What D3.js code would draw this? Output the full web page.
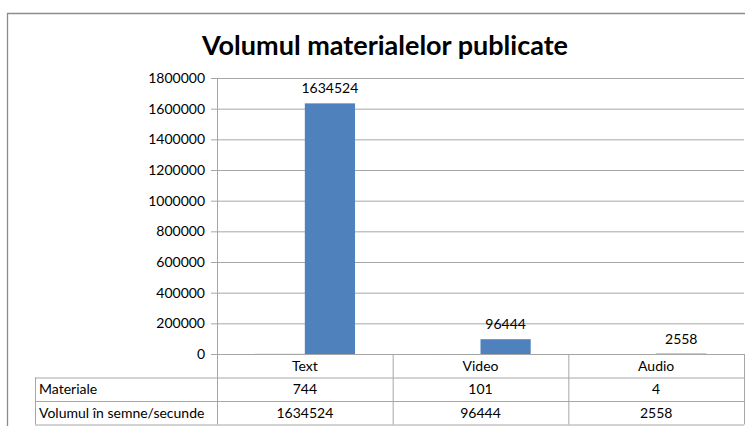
<!DOCTYPE html>
<html>
<head>
<meta charset="utf-8">
<script src="https://cdn.jsdelivr.net/npm/d3@7"></script>
<style>
  body { margin: 0; background: #fff; }
  svg { display: block; }
  text { font-family: Lato, "Open Sans", sans-serif; fill: #000; }
</style>
</head>
<body>
<div id="main"></div>
<script>
const width = 745;
const height = 426;

const categories = ["Text", "Video", "Audio"];
const seriesNames = ["Materiale", "Volumul în semne/secunde"];
const materiale = [744, 101, 4];
const volumul = [1634524, 96444, 2558];
const yTicks = [0, 200000, 400000, 600000, 800000, 1000000, 1200000, 1400000, 1600000, 1800000];

const plotLeft = 217, plotRight = 744, plotTop = 78, plotBottom = 354;
const rowH = 23.5;
const labelLeft = 35;
const gridColor = "#a6a6a6";

const svg = d3.select("#main").append("svg")
  .attr("width", width)
  .attr("height", height);

// outer chart border (left + top visible)
svg.append("path")
  .attr("d", `M7.5,${height + 2}V13.5H${width + 2}`)
  .attr("fill", "none")
  .attr("stroke", "#8c8c8c")
  .attr("stroke-width", 1.3);

svg.append("text")
  .attr("x", 385)
  .attr("y", 55)
  .attr("text-anchor", "middle")
  .style("font-size", "27px")
  .style("font-weight", "bold")
  .text("Volumul materialelor publicate");

const y = d3.scaleLinear()
  .domain([0, 1800000])
  .range([plotBottom, plotTop]);

const x = d3.scaleBand()
  .domain(categories)
  .range([plotLeft, plotRight]);

const x1 = d3.scaleBand()
  .domain(seriesNames)
  .range([0, x.bandwidth()])
  .paddingInner(0)
  .paddingOuter(0.75);

// gridlines + y axis
const yAxis = svg.append("g")
  .attr("transform", `translate(${plotLeft},0)`)
  .call(d3.axisLeft(y).tickValues(yTicks).tickFormat(d3.format("d"))
    .tickSize(-(plotRight - plotLeft)).tickSizeOuter(0).tickPadding(12));
yAxis.select(".domain").remove();
yAxis.selectAll(".tick line").attr("stroke", gridColor).attr("x1", -6);
yAxis.selectAll(".tick text")
  .style("font-size", "14px")
  .style("font-family", "Lato, sans-serif")
  .attr("fill", "#000");

svg.append("line")
  .attr("x1", plotLeft + 0.5).attr("x2", plotLeft + 0.5)
  .attr("y1", plotTop).attr("y2", plotBottom)
  .attr("stroke", gridColor);

// bars
const seriesData = [materiale, volumul];
const groups = svg.append("g").selectAll("g")
  .data(categories)
  .join("g")
  .attr("transform", d => `translate(${x(d)},0)`);

groups.selectAll("rect")
  .data((c, i) => seriesNames.map((s, k) => ({ s, v: seriesData[k][i] })))
  .join("rect")
  .attr("x", d => x1(d.s))
  .attr("width", x1.bandwidth())
  .attr("y", d => y(d.v))
  .attr("height", d => y(0) - y(d.v))
  .attr("fill", "#4f81bd");

// data labels for volumul
groups.append("text")
  .attr("x", x1(seriesNames[1]) + x1.bandwidth() / 2)
  .attr("y", (c, i) => y(volumul[i]) - 10)
  .attr("text-anchor", "middle")
  .style("font-size", "14px")
  .text((c, i) => volumul[i]);

// data table
const table = svg.append("g").attr("stroke", gridColor).attr("fill", "none");
const rowsY = [plotBottom, plotBottom + rowH, plotBottom + 2 * rowH, plotBottom + 3 * rowH];
table.append("line").attr("x1", plotLeft).attr("x2", plotRight).attr("y1", rowsY[0] + 0.5).attr("y2", rowsY[0] + 0.5);
[1, 2, 3].forEach(r => {
  table.append("line").attr("x1", labelLeft).attr("x2", plotRight)
    .attr("y1", rowsY[r] + 0.5).attr("y2", rowsY[r] + 0.5);
});
categories.forEach(c => {
  table.append("line").attr("x1", x(c) + 0.5).attr("x2", x(c) + 0.5)
    .attr("y1", plotBottom).attr("y2", rowsY[3]);
});
table.append("line").attr("x1", plotRight + 0.5).attr("x2", plotRight + 0.5)
  .attr("y1", plotBottom).attr("y2", rowsY[3]);
table.append("line").attr("x1", labelLeft + 0.5).attr("x2", labelLeft + 0.5)
  .attr("y1", rowsY[1]).attr("y2", rowsY[3]);

const cellText = (tx, ty, str, anchor) => svg.append("text")
  .attr("x", tx).attr("y", ty)
  .attr("dy", "0.35em")
  .attr("text-anchor", anchor)
  .style("font-size", "14px")
  .text(str);

categories.forEach((c, i) => {
  const cx = x(c) + x.bandwidth() / 2;
  cellText(cx, rowsY[0] + rowH / 2, c, "middle");
  cellText(cx, rowsY[1] + rowH / 2, materiale[i], "middle");
  cellText(cx, rowsY[2] + rowH / 2, volumul[i], "middle");
});
seriesNames.forEach((s, k) => cellText(labelLeft + 4, rowsY[k + 1] + rowH / 2, s, "start"));
</script>
</body>
</html>
